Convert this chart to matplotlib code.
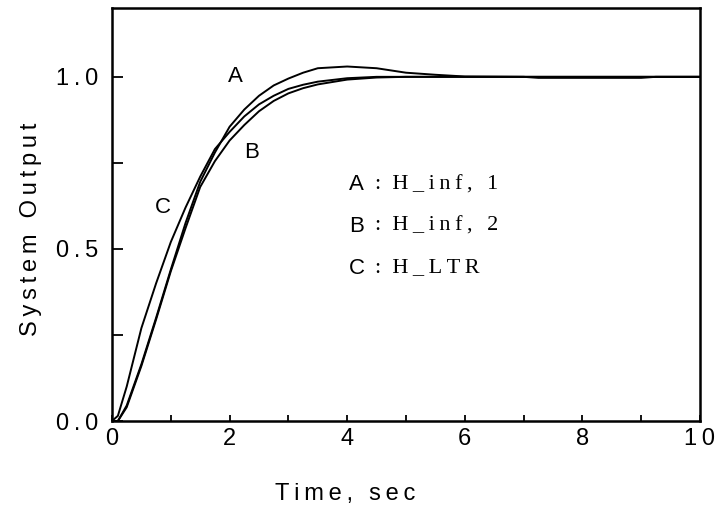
import matplotlib
matplotlib.use("Agg")
import matplotlib.pyplot as plt
from matplotlib.ticker import MultipleLocator

# step responses
t = [0.0, 0.1, 0.25, 0.5, 0.75, 1.0, 1.25, 1.5, 1.75, 2.0, 2.25, 2.5, 2.75,
     3.0, 3.25, 3.5, 4.0, 4.5, 5.0, 5.5, 6.0, 7.0, 7.25, 9.0, 9.25, 10.0]
resp_a = [0.0, 0.0, 0.045, 0.165, 0.30, 0.44, 0.575, 0.695, 0.78, 0.855, 0.905, 0.945, 0.975,
          0.995, 1.012, 1.025, 1.03, 1.025, 1.012, 1.006, 1.001, 1.0, 1.0, 1.0, 1.0, 1.0]
resp_b = [0.0, 0.0, 0.04, 0.16, 0.295, 0.435, 0.56, 0.68, 0.755, 0.815, 0.86, 0.90, 0.93,
          0.952, 0.967, 0.978, 0.992, 0.998, 1.0, 1.0, 1.0, 1.0, 1.0, 1.0, 1.0, 1.0]
resp_c = [0.0, 0.015, 0.10, 0.27, 0.40, 0.52, 0.62, 0.71, 0.79, 0.84, 0.885, 0.92, 0.945,
          0.965, 0.977, 0.986, 0.996, 1.0, 1.0, 1.0, 1.0, 1.0, 0.997, 0.997, 1.0, 1.0]

curve_tags = ["A", "B", "C"]
tag_pos = [(2.1, 1.0), (2.37, 0.78), (0.86, 0.62)]
legend_names = ["H_inf, 1", "H_inf, 2", "H_LTR"]

x_ticks = [0, 2, 4, 6, 8, 10]
x_labels = ["0", "2", "4", "6", "8", "1\u20090"]
y_ticks = [0.0, 0.5, 1.0]
y_labels = ["0\u2009.\u20090", "0\u2009.\u20095", "1\u2009.\u20090"]

sans = "Liberation Sans"
serif = "Liberation Serif"
TS = "\u2009"  # thin space, used as letter spacing


def spaced(s):
    # put a thin space between letters, keep real spaces wide
    return TS.join(" " if ch == " " else ch for ch in s)


fig = plt.figure(figsize=(7.15, 5.07), dpi=100)
ax = fig.add_axes([112 / 715, 1 - 421 / 507, 588 / 715, 413 / 507])

for ys in (resp_a, resp_b, resp_c):
    ax.plot(t, ys, color="black", lw=1.4)

ax.set_xlim(0, 10)
ax.set_ylim(0, 1.2)
ax.set_xticks(x_ticks)
ax.set_xticklabels(x_labels, fontfamily=sans, fontsize=17)
ax.set_yticks(y_ticks)
ax.set_yticklabels(y_labels, fontfamily=sans, fontsize=17)
ax.xaxis.set_minor_locator(MultipleLocator(1))
ax.yaxis.set_minor_locator(MultipleLocator(0.25))
ax.tick_params(axis="x", which="both", direction="in", length=4, width=1.3, pad=5)
ax.tick_params(axis="y", which="both", direction="in", length=8, width=1.3, pad=10)
ax.tick_params(top=False, right=False, which="both")
for sp in ax.spines.values():
    sp.set_linewidth(1.8)

ax.set_xlabel(spaced("Time, sec"), fontfamily=sans, fontsize=17)
ax.xaxis.set_label_coords((345 - 112) / 588, (421 - 483) / 411)
ax.set_ylabel(spaced("System Output"), fontfamily=sans, fontsize=17)
ax.yaxis.set_label_coords((42 - 112) / 588, (421 - 230) / 411)

for tag, (xp, yp) in zip(curve_tags, tag_pos):
    ax.text(xp, yp, tag, fontfamily=sans, fontsize=16, ha="center", va="center")

# legend written as plain text
for i, (tag, name) in enumerate(zip(curve_tags, legend_names)):
    ypix = 185 + i * 41.5
    fig.text(349 / 715, 1 - ypix / 507, tag, fontfamily=sans, fontsize=16, va="center")
    fig.text(375 / 715, 1 - ypix / 507, ":  " + spaced(name), fontfamily=serif,
             fontsize=16, va="center")

fig.savefig("out.png", dpi=100)
